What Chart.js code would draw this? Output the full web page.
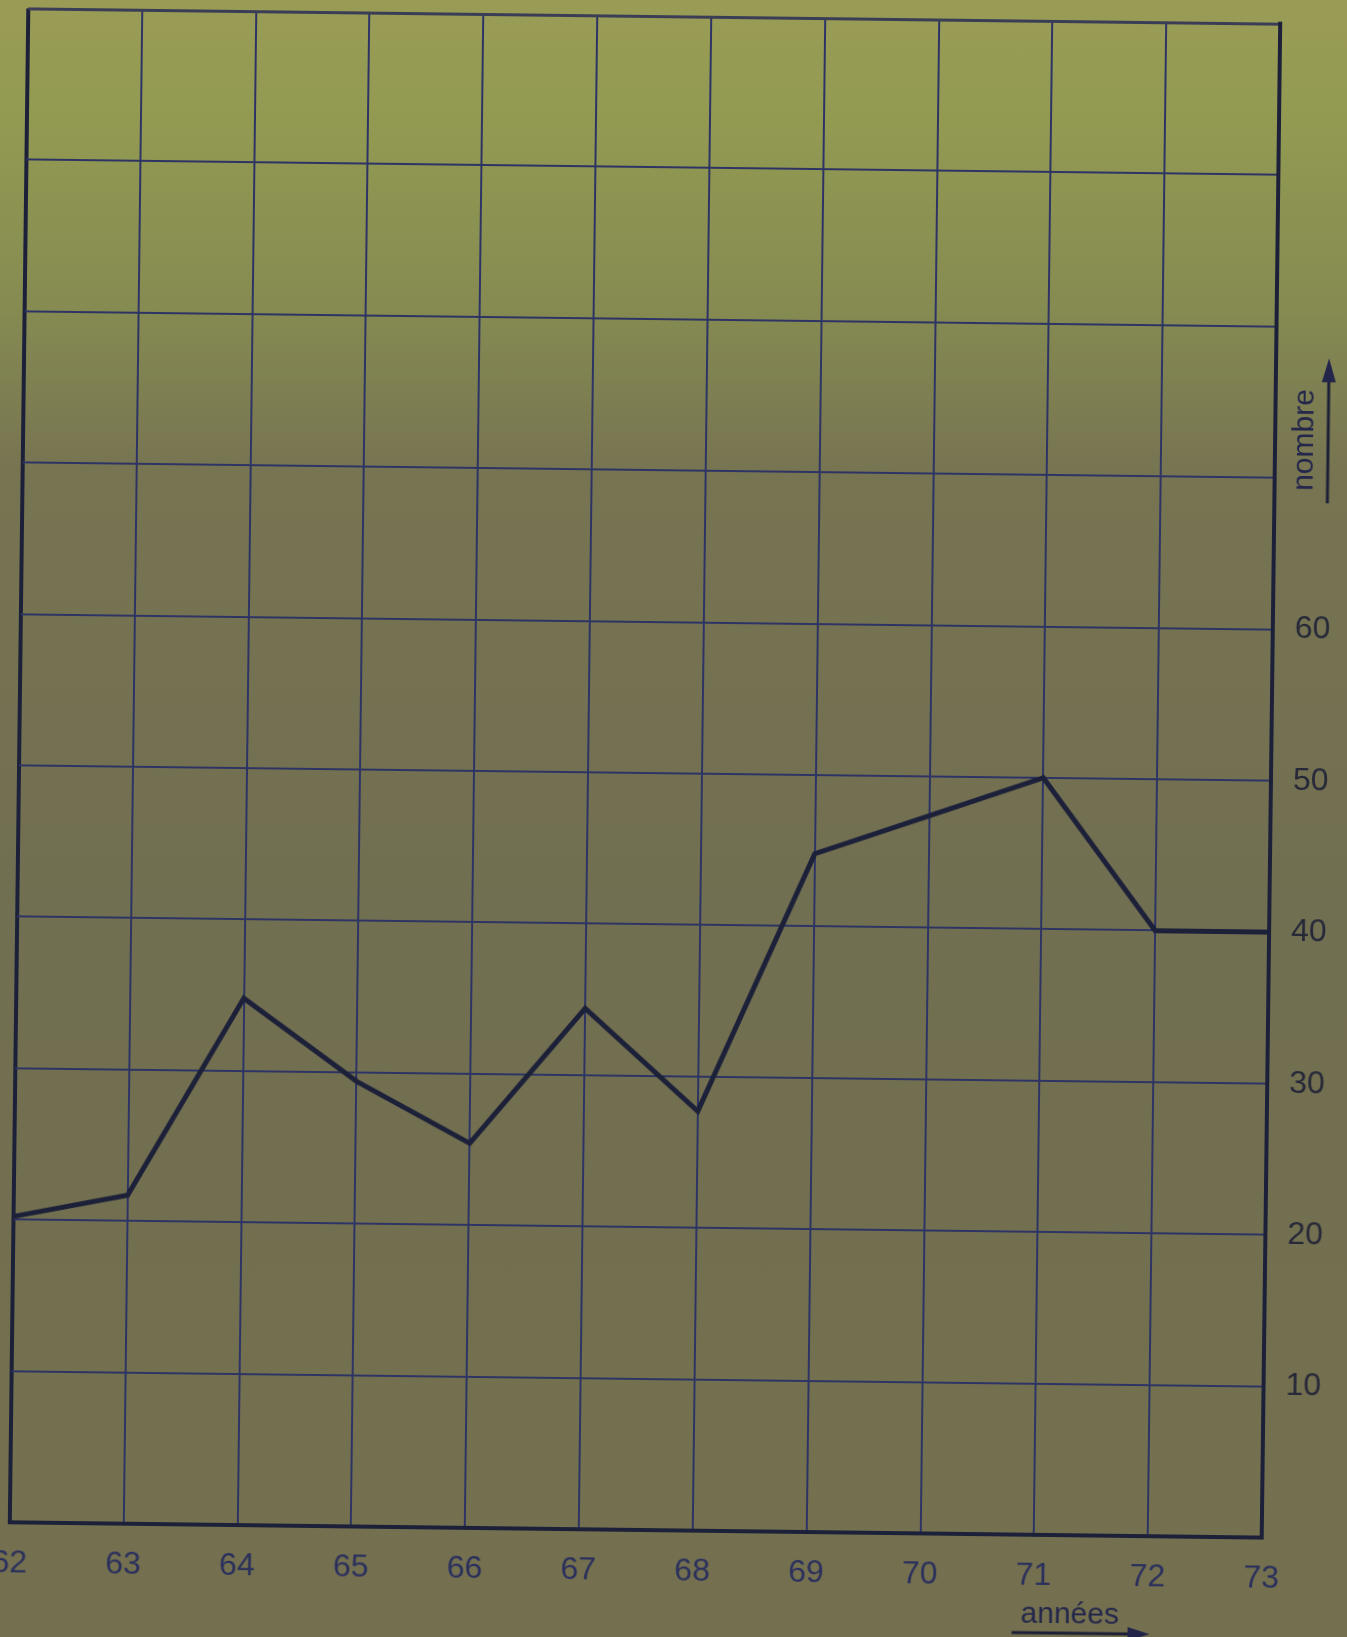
<!DOCTYPE html>
<html>
<head>
<meta charset="utf-8">
<script src="https://cdn.jsdelivr.net/npm/chart.js@4/dist/chart.umd.min.js"></script>
<style>
  html, body {
    margin: 0;
    padding: 0;
    width: 1347px;
    height: 1637px;
    overflow: hidden;
    background: linear-gradient(to bottom, #9a9c56 0px, #929a52 120px, #868c51 300px, #777452 470px, #716f51 900px, #74704f 1637px);
  }
  #chart {
    display: block;
    width: 1347px;
    height: 1637px;
    transform-origin: 645px 773px;
    transform: rotate(0.7deg);
  }
</style>
</head>
<body>
<canvas id="chart" width="1347" height="1637"></canvas>
<script>
// Years on the horizontal axis (19xx)
const years = ['62', '63', '64', '65', '66', '67', '68', '69', '70', '71', '72', '73'];
// "nombre" per year
const nombre = [20.2, 21.7, 34.8, 29.4, 25.4, 34.4, 27.7, 44.8, 47.4, 50, 40, 40];
// Only these values carry a label on the right axis
const yLabelled = [10, 20, 30, 40, 50, 60];

const ink = '#1c2038';
const gridInk = '#2d3464';
const font = '"Liberation Sans", Arial, sans-serif';

// Axis captions with their arrows ("nombre" upward, "années" to the right)
const captions = {
    id: 'captions',
    afterDraw(chart) {
        const ctx = chart.ctx;
        const area = chart.chartArea;
        ctx.save();
        ctx.fillStyle = '#23264a';
        ctx.strokeStyle = '#1c1f36';
        ctx.lineWidth = 3;

        // nombre, written bottom-to-top
        const nx = area.right + 38;
        ctx.save();
        ctx.translate(nx, 432);
        ctx.rotate(-Math.PI / 2);
        ctx.font = '30px ' + font;
        ctx.textAlign = 'center';
        ctx.textBaseline = 'alphabetic';
        ctx.fillText('nombre', 0, 0);
        ctx.restore();
        ctx.beginPath();
        ctx.moveTo(nx + 15, 495);
        ctx.lineTo(nx + 15, 368);
        ctx.stroke();
        ctx.beginPath();
        ctx.moveTo(nx + 15, 350);
        ctx.lineTo(nx + 8, 374);
        ctx.lineTo(nx + 22, 374);
        ctx.closePath();
        ctx.fill();

        // années
        ctx.font = '30px ' + font;
        ctx.textAlign = 'center';
        ctx.fillText('années', 1080, 1618);
        ctx.beginPath();
        ctx.moveTo(1022, 1628);
        ctx.lineTo(1142, 1628);
        ctx.stroke();
        ctx.beginPath();
        ctx.moveTo(1160, 1628);
        ctx.lineTo(1138, 1621);
        ctx.lineTo(1138, 1635);
        ctx.closePath();
        ctx.fill();
        ctx.restore();
    }
};

const ctx = document.getElementById('chart').getContext('2d');
const chart = new Chart(ctx, {
    type: 'line',
    data: {
        labels: years,
        datasets: [{
            data: nombre,
            borderColor: ink,
            borderWidth: 5,
            pointRadius: 0,
            tension: 0,
            borderJoinStyle: 'miter',
            fill: false
        }]
    },
    options: {
        responsive: false,
        animation: false,
        devicePixelRatio: 1,
        layout: {
            padding: { top: 16, left: 19, right: 0, bottom: 0 }
        },
        plugins: {
            legend: { display: false },
            tooltip: { enabled: false }
        },
        scales: {
            x: {
                type: 'category',
                offset: false,
                grid: {
                    color: (c) => c.index === 0 ? ink : gridInk,
                    lineWidth: (c) => c.index === 0 ? 4 : 2,
                    drawTicks: false
                },
                border: { display: true, color: ink, width: 4 },
                ticks: {
                    color: '#2a2f5c',
                    font: { family: font, size: 32 },
                    padding: 22,
                    maxRotation: 0,
                    autoSkip: false
                },
                afterFit(scale) {
                    scale.height = 107;
                    scale.paddingLeft = 0;
                    scale.paddingRight = 0;
                }
            },
            y: {
                position: 'right',
                min: 0,
                max: 100,
                grid: {
                    color: (c) => c.tick && c.tick.value === 100 ? '#3a3d55' : gridInk,
                    lineWidth: (c) => c.tick && c.tick.value === 100 ? 3 : 2,
                    drawTicks: false
                },
                border: { display: true, color: ink, width: 4 },
                ticks: {
                    stepSize: 10,
                    color: '#262838',
                    font: { family: font, size: 32 },
                    padding: 22,
                    callback: (v) => yLabelled.includes(v) ? String(v) : ''
                },
                afterFit(scale) {
                    scale.width = 76;
                    scale.paddingTop = 0;
                    scale.paddingBottom = 0;
                }
            }
        }
    },
    plugins: [captions]
});
</script>
</body>
</html>
